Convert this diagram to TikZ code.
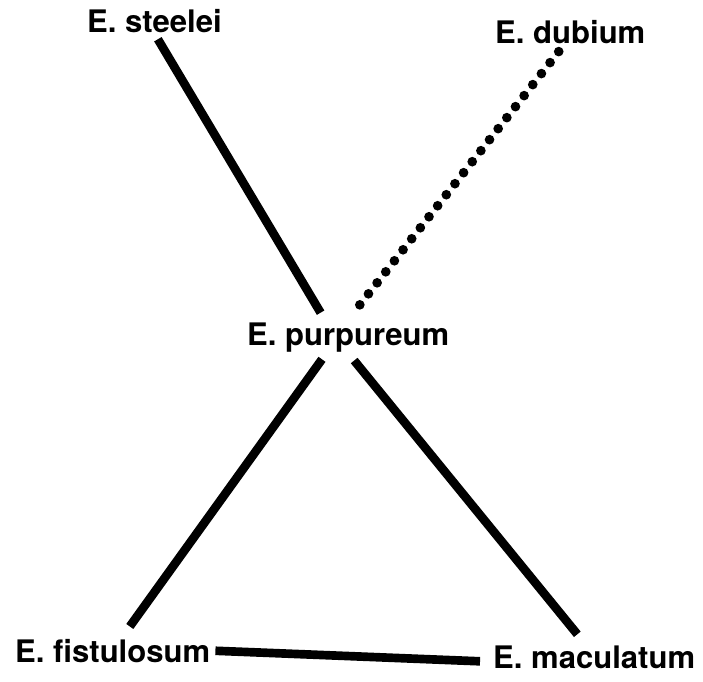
\documentclass[tikz,border=0pt]{standalone}
\usepackage{fontspec}
\setmainfont{TeX Gyre Heros}
\usepackage{tikz}
\usetikzlibrary{positioning}

\begin{document}
\begin{tikzpicture}[x=0.03cm, y=-0.03cm,
    taxon/.style={inner sep=0pt, anchor=base west, font=\fontsize{26.5}{30}\selectfont\bfseries},
    link/.style={line width=0.26cm},
    doubtful/.style={line width=0.29cm, line cap=round, dash pattern=on 0pt off 0.42cm}]
    \useasboundingbox (0,0) rectangle (703,682);

    % Taxa
    \node[taxon] (steelei) at (87,33) {E. steelei};
    \node[taxon] (dubium) at (495,44) {E. dubium};
    \node[taxon] (purp) at (247,345) {E. purpureum};
    \node[taxon] (fist) at (15,662) {E. fistulosum};
    \node[taxon] (mac) at (493,668) {E. maculatum};

    % Links
    \draw[link, shorten <=0.2cm, shorten >=0.33cm] (steelei.south) -- ([xshift=-0.66cm]purp.north);
    \draw[doubtful, shorten <=0.27cm, shorten >=0.3cm] ([xshift=-0.18cm]dubium.south) -- ([xshift=-0.06cm]purp.north);
    \draw[link, shorten <=0.27cm, shorten >=0.45cm] ([xshift=-0.63cm]purp.south) -- ([xshift=0.25cm]fist.north);
    \draw[link, shorten <=0.33cm, shorten >=0.42cm] ([xshift=-0.03cm]purp.south) -- ([xshift=-0.24cm]mac.north);
    \draw[link, shorten <=0.15cm, shorten >=0.39cm] (fist.east) -- ([yshift=-0.15cm]mac.west);
\end{tikzpicture}
\end{document}
